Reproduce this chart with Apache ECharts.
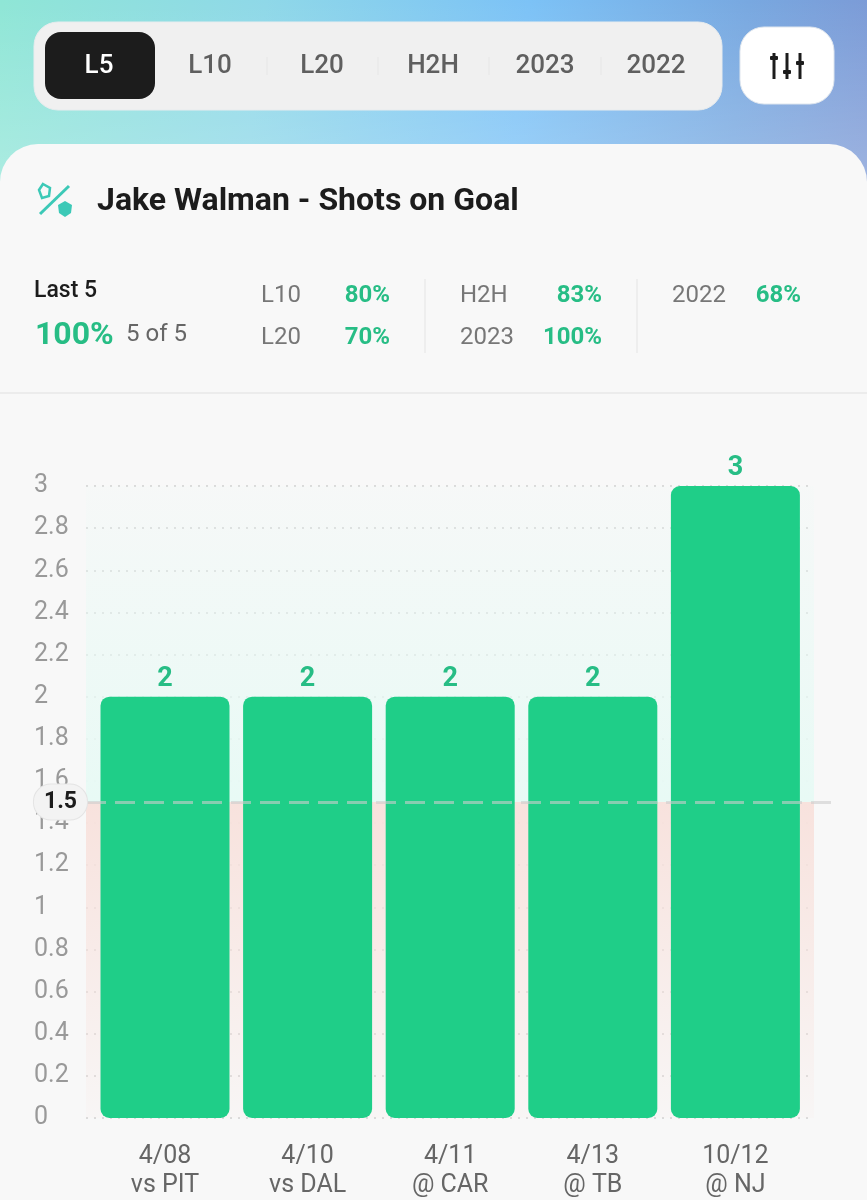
<!DOCTYPE html>
<html><head><meta charset="utf-8">
<style>html,body{margin:0;padding:0;background:#f8f8f8}#c{width:867px;height:1200px}</style>
<script src="https://cdn.jsdelivr.net/npm/echarts@6/dist/echarts.min.js"></script>
</head><body><div id="c"></div>
<script>
const categories = ['4/08\nvs PIT','4/10\nvs DAL','4/11\n@ CAR','4/13\n@ TB','10/12\n@ NJ'];
const shots = [2,2,2,2,3];
const lineValue = 1.5;
const tabs = ['L5','L10','L20','H2H','2023','2022'];
const title = 'Jake Walman - Shots on Goal';
const statsLeft = [['L10','80%'],['L20','70%']];
const statsMid = [['H2H','83%'],['2023','100%']];
const statsRight = [['2022','68%']];

const GREEN='#1fce88', TXTGREEN='#27bd85', FF='Roboto';
const chart = echarts.init(document.getElementById('c'),null,{renderer:'canvas'});
const txt=(x,y,text,o={})=>({type:'text',x,y,z:-1,style:Object.assign({text,fontFamily:FF,fontSize:24,fill:'#777',verticalAlign:'middle'},o)});
const g=[];
g.push({type:'rect',z:-6,shape:{x:0,y:0,width:867,height:200},style:{fill:new echarts.graphic.LinearGradient(0,0.1,1,0.6,[{offset:0,color:'#8fe6d6'},{offset:0.3,color:'#8fd8e8'},{offset:0.6,color:'#7cc2f6'},{offset:0.85,color:'#78a8e0'},{offset:1,color:'#7c9ad6'}])}});
g.push({type:'rect',z:-5,shape:{x:0,y:0,width:867,height:200},style:{fill:new echarts.graphic.LinearGradient(0,0,0,1,[{offset:0,color:'rgba(255,255,255,0)'},{offset:1,color:'rgba(255,255,255,0.28)'}])}});
g.push({type:'rect',z:-4,shape:{x:0,y:144,width:867,height:1056,r:[38,38,0,0]},style:{fill:'#f8f8f8'}});
g.push({type:'rect',z:-3,shape:{x:34,y:22,width:688,height:88,r:24},style:{fill:'#f0f0f0',stroke:'#e8ecee',lineWidth:1}});
g.push({type:'rect',z:-2,shape:{x:45,y:32,width:110,height:67,r:16},style:{fill:'#1c1c1c'}});
const tabX=[99,210,322,433,545,656];
tabs.forEach((t,i)=>g.push(txt(tabX[i],66,t,{align:'center',fontSize:26,fontWeight:500,fill:i===0?'#fff':'#5f5f5f'})));
[267,378,489,601].forEach(x=>g.push({type:'line',z:-2,shape:{x1:x,y1:57,x2:x,y2:75},style:{stroke:'#e6e6e6',lineWidth:1}}));
g.push({type:'rect',z:-3,shape:{x:740,y:27,width:94,height:77,r:24},style:{fill:'#fff',stroke:'#dfe6ee',lineWidth:1}});
[[774,58],[787,72],[800,63]].forEach(([x,k])=>{
  g.push({type:'line',z:-2,shape:{x1:x,y1:53,x2:x,y2:79},style:{stroke:'#1c1c1c',lineWidth:3}});
  g.push({type:'rect',z:-2,shape:{x:x-4,y:k-2,width:8,height:4,r:1},style:{fill:'#1c1c1c'}});
});
g.push({type:'line',z:-2,shape:{x1:69,y1:186,x2:40,y2:214},style:{stroke:'#3cc9b7',lineWidth:3}});
g.push({type:'polygon',z:-2,shape:{points:[[43,184],[50,188],[49,196],[42,198],[39,190]]},style:{fill:'none',stroke:'#3cc9b7',lineWidth:2.5}});
g.push({type:'polygon',z:-2,shape:{points:[[65,201],[72,205],[71,213],[65,217],[59,213],[58,205]]},style:{fill:'#3cc9b7'}});
g.push(txt(97,202,title,{fontSize:32,fontWeight:700,fill:'#1c1c1c'}));
g.push(txt(34,291,'Last 5',{fontSize:23,fontWeight:500,fill:'#1c1c1c'}));
g.push(txt(35,336,'100%',{fontSize:32,fontWeight:700,fill:TXTGREEN}));
g.push(txt(126,335,'5 of 5',{fontSize:24,fill:'#666'}));
const rows=[296,338];
const stat=(arr,lx,rx)=>arr.forEach(([a,b],i)=>{g.push(txt(lx,rows[i],a));g.push(txt(rx,rows[i],b,{align:'right',fontSize:24,fontWeight:700,fill:TXTGREEN}));});
stat(statsLeft,261,390);stat(statsMid,460,602);stat(statsRight,672,801);
[425,637].forEach(x=>g.push({type:'line',z:-2,shape:{x1:x,y1:279,x2:x,y2:353},style:{stroke:'#e4e4e4',lineWidth:1}}));
g.push({type:'line',z:-2,shape:{x1:0,y1:393,x2:867,y2:393},style:{stroke:'#e8e8e8',lineWidth:1.5}});

const gridTop=486, gridH=632;
const hiddenX=i=>({type:'category',gridIndex:i,show:false,data:categories});
const hiddenY=i=>({type:'value',gridIndex:i,show:false,min:0,max:3,interval:0.2});
chart.setOption({
  animation:false,
  graphic:{elements:g},
  grid:[
    {left:86,top:gridTop,width:728,height:gridH},
    {left:93.7,top:gridTop,width:713,height:gridH},
    {left:86,top:gridTop,width:749,height:gridH}
  ],
  xAxis:[
    hiddenX(0),
    {type:'category',gridIndex:1,data:categories,axisLine:{show:false},axisTick:{show:false},
     axisLabel:{interval:0,margin:24,fontFamily:FF,fontSize:25,color:'#666',lineHeight:29}},
    hiddenX(2)
  ],
  yAxis:[
    {type:'value',gridIndex:0,min:0,max:3,interval:0.2,axisLine:{show:false},axisTick:{show:false},
     axisLabel:{align:'left',margin:52,fontFamily:FF,fontSize:25,color:'#999',padding:[0,0,1,0]},
     splitLine:{lineStyle:{type:[2,6],color:'#cfcfcf',width:1.5}}},
    hiddenY(1),hiddenY(2)
  ],
  series:[
    {type:'line',xAxisIndex:0,yAxisIndex:0,data:[],silent:true,z:1,
     markArea:{silent:true,z:1,data:[
       [{yAxis:3,itemStyle:{color:new echarts.graphic.LinearGradient(0,0,0,1,[{offset:0,color:'rgba(232,250,245,0.1)'},{offset:1,color:'#e8faf5'}])}},{yAxis:lineValue}],
       [{yAxis:lineValue,itemStyle:{color:new echarts.graphic.LinearGradient(0,0,0,1,[{offset:0,color:'#f8e2dd'},{offset:1,color:'rgba(248,226,221,0.1)'}])}},{yAxis:0}]
     ]}},
    {type:'bar',xAxisIndex:1,yAxisIndex:1,data:shots,barWidth:129,z:3,
     itemStyle:{color:GREEN,borderRadius:9},
     label:{show:true,position:'top',distance:4,fontFamily:FF,fontSize:27,fontWeight:700,color:TXTGREEN}},
    {type:'line',xAxisIndex:2,yAxisIndex:2,data:[],silent:true,z:5,
     markLine:{silent:true,symbol:'none',z:5,
       lineStyle:{type:[20,9],color:'rgba(205,205,205,0.6)',width:3},
       label:{position:'start',distance:-1,formatter:'{c}',fontFamily:FF,fontSize:23,fontWeight:700,color:'#1c1c1c',
              backgroundColor:'#f3f3f3',borderColor:'#e4e4e4',borderWidth:1,borderRadius:17,padding:[6,10,6,10]},
       data:[{yAxis:lineValue}]}}
  ]
});
</script></body></html>
